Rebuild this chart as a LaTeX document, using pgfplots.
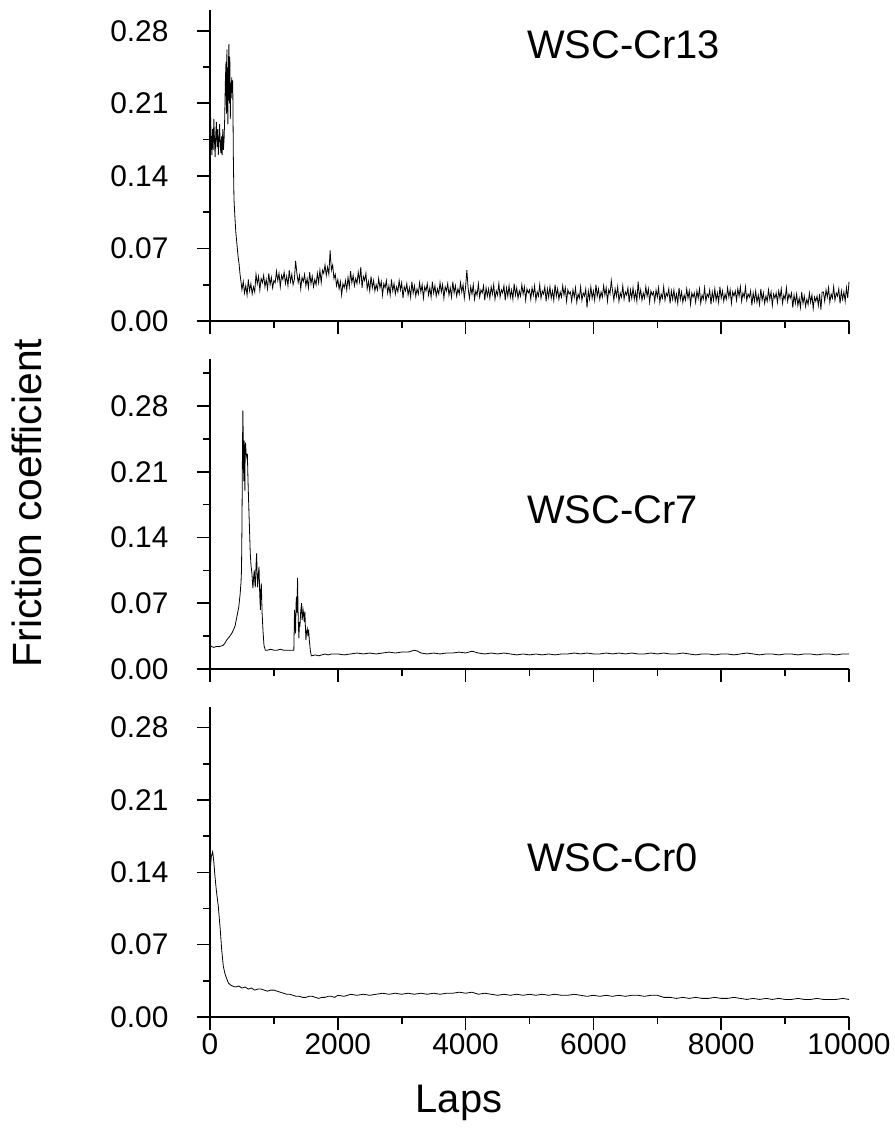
\documentclass[border=0pt]{standalone}
\usepackage{fontspec}
\setmainfont{Liberation Sans}
\usepackage{pgfplots}
\pgfplotsset{compat=1.18}

\pgfplotsset{
  panel/.style={
    scale only axis, width=639bp,
    xmin=0, xmax=10000, ymin=0,
    axis lines*=left,
    axis line style={line width=1.8bp},
    tick align=outside,
    major tick length=13bp, minor tick length=7bp,
    every tick/.style={black, line width=1.6bp},
    xtick={0,2000,4000,6000,8000,10000},
    minor xtick={1000,3000,5000,7000,9000},
    ytick={0,0.07,0.14,0.21,0.28},
    scaled ticks=false,
    /pgf/number format/assume math mode=true,
    /pgf/number format/1000 sep={},
    ticklabel style={font=\fontsize{30}{30}\selectfont},
    yticklabel style={xshift=-25bp, /pgf/number format/.cd, fixed, fixed zerofill, precision=2},
    clip=false,
  },
}

\begin{document}
\begin{tikzpicture}
\useasboundingbox (0,0) rectangle (895bp,1135bp);

% top: WSC-Cr13
\begin{axis}[panel, at={(210bp,814bp)}, anchor=south west, height=311bp,
  ymax=0.30, minor ytick={0.035,0.105,0.175,0.245}, xticklabels={}]
\addplot[black, line width=0.8bp] table {
x y
0 0.215
10 0.195
20 0.172
30 0.160
40 0.185
50 0.165
60 0.195
70 0.175
80 0.158
90 0.180
100 0.192
110 0.168
120 0.185
130 0.160
140 0.175
150 0.190
160 0.170
170 0.162
180 0.178
190 0.160
200 0.185
210 0.165
220 0.175
230 0.195
240 0.230
250 0.250
258 0.200
265 0.262
272 0.215
280 0.190
288 0.245
296 0.267
304 0.210
310 0.255
318 0.195
325 0.230
332 0.215
340 0.235
348 0.220
356 0.232
365 0.160
375 0.118
390 0.100
405 0.085
420 0.075
440 0.062
455 0.055
470 0.045
485 0.038
500 0.030
520 0.038
540 0.027
560 0.034
580 0.025
600 0.040
620 0.029
640 0.036
660 0.026
680 0.033
700 0.028
720 0.045
740 0.036
760 0.043
780 0.030
800 0.041
820 0.037
840 0.044
860 0.033
880 0.040
900 0.031
920 0.046
940 0.035
960 0.042
980 0.032
1000 0.039
1020 0.037
1040 0.048
1060 0.039
1080 0.046
1100 0.033
1120 0.044
1140 0.040
1160 0.047
1180 0.036
1200 0.043
1220 0.034
1240 0.049
1260 0.038
1280 0.045
1300 0.035
1320 0.040
1340 0.058
1360 0.046
1380 0.037
1400 0.044
1420 0.031
1440 0.042
1460 0.038
1480 0.045
1500 0.034
1520 0.041
1540 0.032
1560 0.047
1580 0.036
1600 0.043
1620 0.033
1640 0.040
1660 0.035
1680 0.046
1700 0.037
1720 0.049
1740 0.037
1760 0.049
1780 0.046
1800 0.054
1820 0.044
1840 0.052
1860 0.045
1880 0.068
1900 0.049
1920 0.054
1940 0.041
1960 0.045
1980 0.034
2000 0.040
2020 0.031
2040 0.038
2060 0.025
2080 0.036
2100 0.032
2120 0.039
2140 0.030
2160 0.042
2180 0.033
2200 0.048
2220 0.037
2240 0.044
2260 0.034
2280 0.041
2300 0.036
2320 0.047
2340 0.038
2360 0.052
2380 0.032
2400 0.043
2420 0.039
2440 0.046
2460 0.031
2480 0.038
2500 0.029
2520 0.043
2540 0.032
2560 0.039
2580 0.029
2600 0.035
2620 0.030
2640 0.041
2660 0.032
2680 0.038
2700 0.025
2720 0.036
2740 0.032
2760 0.039
2780 0.027
2800 0.034
2820 0.025
2840 0.040
2860 0.029
2880 0.036
2900 0.026
2920 0.033
2940 0.028
2960 0.039
2980 0.030
3000 0.037
3020 0.022
3040 0.033
3060 0.029
3080 0.036
3100 0.025
3120 0.032
3140 0.023
3160 0.038
3180 0.027
3200 0.034
3220 0.024
3240 0.031
3260 0.026
3280 0.037
3300 0.028
3320 0.035
3340 0.022
3360 0.033
3380 0.029
3400 0.036
3420 0.025
3440 0.032
3460 0.023
3480 0.038
3500 0.027
3520 0.034
3540 0.024
3560 0.031
3580 0.026
3600 0.037
3620 0.028
3640 0.035
3660 0.022
3680 0.033
3700 0.029
3720 0.036
3740 0.025
3760 0.032
3780 0.023
3800 0.038
3820 0.027
3840 0.034
3860 0.024
3880 0.031
3900 0.026
3920 0.037
3940 0.028
3960 0.035
3980 0.022
4000 0.033
4020 0.049
4040 0.031
4060 0.022
4080 0.033
4100 0.026
4120 0.035
4140 0.021
4160 0.029
4180 0.025
4200 0.036
4220 0.023
4240 0.030
4260 0.027
4280 0.034
4300 0.020
4320 0.032
4340 0.024
4360 0.031
4380 0.022
4400 0.033
4420 0.026
4440 0.035
4460 0.021
4480 0.029
4500 0.025
4520 0.036
4540 0.023
4560 0.030
4580 0.027
4600 0.034
4620 0.020
4640 0.032
4660 0.024
4680 0.034
4700 0.023
4720 0.030
4740 0.021
4760 0.036
4780 0.025
4800 0.032
4820 0.022
4840 0.029
4860 0.024
4880 0.035
4900 0.026
4920 0.033
4940 0.020
4960 0.031
4980 0.027
5000 0.030
5020 0.021
5040 0.032
5060 0.025
5080 0.034
5100 0.020
5120 0.028
5140 0.024
5160 0.035
5180 0.022
5200 0.029
5220 0.026
5240 0.033
5260 0.019
5280 0.031
5300 0.023
5320 0.033
5340 0.022
5360 0.029
5380 0.020
5400 0.035
5420 0.024
5440 0.031
5460 0.021
5480 0.028
5500 0.023
5520 0.034
5540 0.025
5560 0.032
5580 0.019
5600 0.030
5620 0.026
5640 0.028
5660 0.019
5680 0.030
5700 0.023
5720 0.032
5740 0.018
5760 0.026
5780 0.022
5800 0.033
5820 0.020
5840 0.027
5860 0.024
5880 0.031
5900 0.013
5920 0.029
5940 0.021
5960 0.033
5980 0.022
6000 0.029
6020 0.020
6040 0.035
6060 0.024
6080 0.031
6100 0.021
6120 0.028
6140 0.023
6160 0.034
6180 0.025
6200 0.032
6220 0.019
6240 0.030
6260 0.026
6280 0.039
6300 0.029
6320 0.020
6340 0.031
6360 0.024
6380 0.033
6400 0.019
6420 0.027
6440 0.023
6460 0.034
6480 0.021
6500 0.028
6520 0.025
6540 0.032
6560 0.018
6580 0.030
6600 0.022
6620 0.032
6640 0.021
6660 0.028
6680 0.019
6700 0.038
6720 0.023
6740 0.030
6760 0.020
6780 0.027
6800 0.022
6820 0.033
6840 0.024
6860 0.031
6880 0.018
6900 0.029
6920 0.025
6940 0.028
6960 0.019
6980 0.030
7000 0.023
7020 0.032
7040 0.018
7060 0.026
7080 0.022
7100 0.033
7120 0.020
7140 0.027
7160 0.024
7180 0.031
7200 0.017
7220 0.029
7240 0.021
7260 0.030
7280 0.019
7300 0.026
7320 0.017
7340 0.032
7360 0.021
7380 0.028
7400 0.018
7420 0.025
7440 0.020
7460 0.031
7480 0.022
7500 0.029
7520 0.016
7540 0.027
7560 0.023
7580 0.027
7600 0.018
7620 0.029
7640 0.022
7660 0.031
7680 0.017
7700 0.025
7720 0.021
7740 0.032
7760 0.019
7780 0.026
7800 0.023
7820 0.030
7840 0.016
7860 0.028
7880 0.020
7900 0.031
7920 0.020
7940 0.027
7960 0.018
7980 0.033
8000 0.022
8020 0.029
8040 0.019
8060 0.026
8080 0.021
8100 0.032
8120 0.023
8140 0.030
8160 0.017
8180 0.028
8200 0.024
8220 0.029
8240 0.020
8260 0.031
8280 0.024
8300 0.033
8320 0.019
8340 0.027
8360 0.023
8380 0.033
8400 0.020
8420 0.026
8440 0.023
8460 0.029
8480 0.015
8500 0.027
8520 0.019
8540 0.029
8560 0.018
8580 0.025
8600 0.016
8620 0.031
8640 0.020
8660 0.027
8680 0.017
8700 0.024
8720 0.019
8740 0.030
8760 0.021
8780 0.028
8800 0.015
8820 0.026
8840 0.022
8860 0.027
8880 0.018
8900 0.029
8920 0.022
8940 0.031
8960 0.017
8980 0.025
9000 0.021
9020 0.032
9040 0.019
9060 0.026
9080 0.022
9100 0.027
9120 0.013
9140 0.025
9160 0.017
9180 0.026
9200 0.015
9220 0.022
9240 0.013
9260 0.028
9280 0.017
9300 0.024
9320 0.014
9340 0.021
9360 0.016
9380 0.027
9400 0.018
9420 0.025
9440 0.012
9460 0.023
9480 0.019
9500 0.024
9520 0.015
9540 0.026
9560 0.011
9580 0.028
9600 0.028
9620 0.019
9640 0.030
9660 0.023
9680 0.032
9700 0.018
9720 0.026
9740 0.022
9760 0.033
9780 0.020
9800 0.027
9820 0.024
9840 0.031
9860 0.017
9880 0.029
9900 0.021
9920 0.028
9940 0.019
9960 0.032
9980 0.022
10000 0.038
};
\end{axis}

% middle: WSC-Cr7
\begin{axis}[panel, at={(210bp,466bp)}, anchor=south west, height=310bp,
  ymax=0.33, minor ytick={0.035,0.105,0.175,0.245,0.315}, xticklabels={}]
\addplot[black, line width=0.8bp] table {
x y
0 0.026
20 0.024
60 0.023
100 0.024
150 0.024
200 0.025
230 0.027
262 0.031
300 0.034
341 0.038
370 0.042
393 0.046
410 0.052
430 0.059
450 0.066
472 0.080
485 0.092
493 0.105
500 0.150
508 0.230
514 0.275
520 0.250
528 0.200
535 0.243
541 0.225
546 0.190
551 0.235
556 0.241
565 0.230
577 0.225
585 0.229
595 0.200
609 0.168
620 0.145
630 0.123
642 0.110
656 0.102
665 0.092
672 0.086
683 0.098
693 0.105
700 0.094
709 0.087
720 0.110
730 0.123
738 0.100
746 0.087
756 0.100
767 0.109
778 0.080
788 0.063
796 0.085
803 0.091
815 0.060
830 0.040
845 0.025
866 0.020
900 0.020
950 0.021
1000 0.020
1050 0.020
1100 0.021
1150 0.020
1200 0.020
1250 0.020
1312 0.020
1323 0.063
1331 0.045
1339 0.038
1347 0.070
1354 0.077
1362 0.060
1370 0.097
1380 0.055
1391 0.033
1400 0.050
1407 0.045
1420 0.062
1433 0.070
1441 0.052
1449 0.056
1457 0.063
1465 0.059
1475 0.050
1485 0.061
1493 0.045
1501 0.031
1512 0.040
1522 0.043
1533 0.035
1543 0.042
1555 0.030
1570 0.020
1585 0.014
1650 0.015
1700 0.014
1750 0.015
1800 0.016
1850 0.015
1900 0.016
2000 0.016
2100 0.015
2200 0.016
2300 0.017
2400 0.016
2500 0.017
2600 0.016
2700 0.017
2800 0.018
2900 0.017
3000 0.018
3100 0.018
3200 0.020
3250 0.019
3300 0.017
3400 0.016
3500 0.017
3600 0.016
3700 0.017
3800 0.017
3900 0.018
4000 0.017
4100 0.019
4200 0.017
4300 0.016
4400 0.017
4500 0.016
4600 0.017
4700 0.016
4800 0.015
4900 0.016
5000 0.015
5100 0.016
5200 0.015
5300 0.016
5400 0.015
5500 0.016
5600 0.016
5700 0.017
5800 0.016
5900 0.017
6000 0.016
6100 0.016
6200 0.017
6300 0.016
6400 0.017
6500 0.016
6600 0.017
6700 0.016
6800 0.016
6900 0.017
7000 0.016
7100 0.017
7200 0.016
7300 0.016
7400 0.017
7500 0.016
7600 0.015
7700 0.016
7800 0.016
7900 0.015
8000 0.016
8100 0.016
8200 0.015
8300 0.016
8400 0.017
8500 0.016
8600 0.015
8700 0.016
8800 0.016
8900 0.015
9000 0.016
9100 0.016
9200 0.015
9300 0.016
9400 0.016
9500 0.015
9600 0.016
9700 0.016
9800 0.015
9900 0.016
10000 0.016
};
\end{axis}

% bottom: WSC-Cr0
\begin{axis}[panel, at={(210bp,118bp)}, anchor=south west, height=310bp,
  ymax=0.30, minor ytick={0.035,0.105,0.175,0.245}]
\addplot[black, line width=0.8bp] table {
x y
0 0.140
20 0.155
42 0.160
60 0.150
78 0.136
100 0.122
130 0.107
160 0.085
183 0.065
209 0.049
230 0.043
250 0.039
287 0.033
320 0.031
350 0.030
400 0.029
450 0.030
500 0.028
550 0.029
600 0.027
650 0.028
700 0.026
750 0.027
800 0.027
850 0.026
900 0.025
950 0.026
1000 0.026
1050 0.025
1100 0.024
1150 0.023
1200 0.022
1250 0.022
1300 0.021
1350 0.020
1400 0.020
1450 0.019
1500 0.019
1550 0.020
1600 0.020
1650 0.019
1700 0.018
1750 0.019
1800 0.019
1850 0.020
1900 0.020
1950 0.019
2000 0.021
2100 0.020
2200 0.022
2300 0.021
2400 0.022
2500 0.021
2600 0.022
2700 0.023
2800 0.022
2900 0.023
3000 0.022
3100 0.023
3200 0.022
3300 0.023
3400 0.022
3500 0.023
3600 0.022
3700 0.023
3800 0.023
3900 0.024
4000 0.023
4100 0.024
4200 0.022
4300 0.023
4400 0.022
4500 0.021
4600 0.022
4700 0.021
4800 0.022
4900 0.021
5000 0.022
5100 0.021
5200 0.022
5300 0.021
5400 0.022
5500 0.021
5600 0.021
5700 0.022
5800 0.021
5900 0.020
6000 0.021
6100 0.020
6200 0.021
6300 0.020
6400 0.021
6500 0.020
6600 0.021
6700 0.021
6800 0.020
6900 0.021
7000 0.021
7100 0.019
7200 0.019
7300 0.018
7400 0.019
7500 0.018
7600 0.019
7700 0.018
7800 0.018
7900 0.019
8000 0.018
8100 0.018
8200 0.019
8300 0.018
8400 0.017
8500 0.018
8600 0.017
8700 0.018
8800 0.017
8900 0.018
9000 0.017
9100 0.017
9200 0.018
9300 0.017
9400 0.017
9500 0.018
9600 0.017
9700 0.017
9800 0.017
9900 0.018
10000 0.017
};
\end{axis}

\node[anchor=west, inner sep=0pt, font=\fontsize{40}{40}\selectfont] at (527bp,1090bp) {WSC-Cr13};
\node[anchor=west, inner sep=0pt, font=\fontsize{40}{40}\selectfont] at (527bp,625bp) {WSC-Cr7};
\node[anchor=west, inner sep=0pt, font=\fontsize{40}{40}\selectfont] at (527bp,277bp) {WSC-Cr0};
\node[rotate=90, inner sep=0pt, font=\fontsize{41}{41}\selectfont] at (27bp,632bp) {Friction coefficient};
\node[inner sep=0pt, font=\fontsize{40}{40}\selectfont] at (459bp,32bp) {Laps};
\end{tikzpicture}
\end{document}
